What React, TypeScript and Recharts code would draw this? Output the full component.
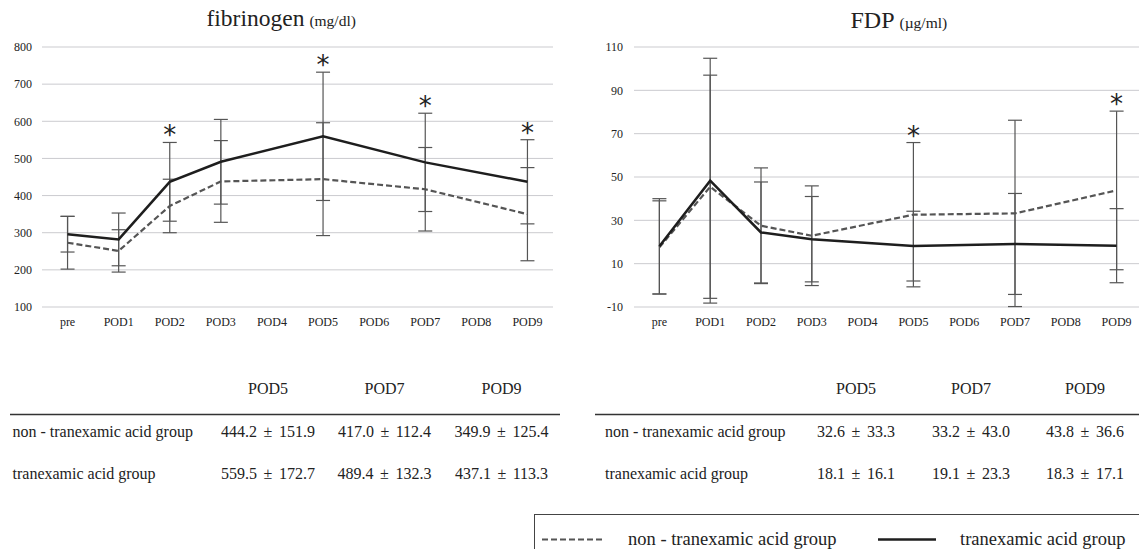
import React from 'react';
import { CartesianGrid, ErrorBar, Line, LineChart, XAxis, YAxis } from 'recharts';

// categories on the x axis (POD4/6/8 have no measurement)
const days = ['pre', 'POD1', 'POD2', 'POD3', 'POD4', 'POD5', 'POD6', 'POD7', 'POD8', 'POD9'];

// fibrinogen (mg/dl), mean and SD per day
const fibNon = [273, 251, 372, 438, null, 444.2, null, 417.0, null, 349.9];
const fibNonSd = [71, 57, 72, 110, null, 151.9, null, 112.4, null, 125.4];
const fibTxa = [296, 282, 437, 491, null, 559.5, null, 489.4, null, 437.1];
const fibTxaSd = [48, 71, 106, 114, null, 172.7, null, 132.3, null, 113.3];
const fibSig = [false, false, true, false, false, true, false, true, false, true];
const fibTicks = [100, 200, 300, 400, 500, 600, 700, 800];

// FDP (µg/ml)
const fdpNon = [17.5, 45.5, 27.5, 22.9, null, 32.6, null, 33.2, null, 43.8];
const fdpNonSd = [21.5, 51.5, 26.7, 23.0, null, 33.3, null, 43.0, null, 36.6];
const fdpTxa = [18, 48.3, 24.4, 21.3, null, 18.1, null, 19.1, null, 18.3];
const fdpTxaSd = [22, 56.5, 23.3, 19.7, null, 16.1, null, 23.3, null, 17.1];
const fdpSig = [false, false, false, false, false, true, false, false, false, true];
const fdpTicks = [-10, 10, 30, 50, 70, 90, 110];

const tableDays = ['POD5', 'POD7', 'POD9'];
const groupNames = ['non - tranexamic acid group', 'tranexamic acid group'];

const SERIF = '"Liberation Serif", "Times New Roman", serif';

type Num = number | null;

function buildRows(non: Num[], nonSd: Num[], txa: Num[], txaSd: Num[], sig: boolean[]) {
  return days.map((d, i) => {
    const a = non[i];
    const b = txa[i];
    let star: Num = null;
    if (sig[i] && a != null && b != null) {
      star = Math.max(a + (nonSd[i] ?? 0), b + (txaSd[i] ?? 0));
    }
    return { day: d, non: a, nonSd: nonSd[i], txa: b, txaSd: txaSd[i], star };
  });
}

const fmt = (m: Num, s: Num) => `${(m ?? 0).toFixed(1)} ± ${(s ?? 0).toFixed(1)}`;

function StarDot(props: any) {
  const { cx, cy, index } = props;
  if (cx == null || cy == null || isNaN(cy)) return <g key={`st${index}`} />;
  return (
    <text
      key={`st${index}`}
      x={cx}
      y={cy + 2}
      textAnchor="middle"
      fontSize={26}
      fontFamily='"DejaVu Sans", sans-serif'
      fill="#222"
    >
      *
    </text>
  );
}

interface PanelProps {
  rows: ReturnType<typeof buildRows>;
  domain: [number, number];
  ticks: number[];
  yWidth: number;
  yMargin: number;
  width: number;
}

function Panel({ rows, domain, ticks, yWidth, yMargin, width }: PanelProps) {
  return (
    <LineChart
      width={width}
      height={340}
      data={rows}
      margin={{ top: 47, right: 8, bottom: 3, left: 0 }}
    >
      <CartesianGrid vertical={false} stroke="#cbcbcf" strokeWidth={1} />
      <XAxis
        dataKey="day"
        scale="band"
        axisLine={false}
        tickLine={false}
        tickSize={0}
        tickMargin={10}
        height={30}
        interval={0}
        tick={{ fontSize: 12, fill: '#222', fontFamily: SERIF }}
      />
      <YAxis
        domain={domain}
        ticks={ticks}
        width={yWidth}
        axisLine={false}
        tickLine={false}
        tickSize={0}
        tickMargin={yMargin}
        tick={{ fontSize: 12, fill: '#222', fontFamily: SERIF }}
      />
      <Line
        dataKey="non"
        stroke="#555"
        strokeWidth={2.2}
        strokeDasharray="6 3"
        dot={false}
        connectNulls
        isAnimationActive={false}
      >
        <ErrorBar dataKey="nonSd" width={7} stroke="#555" strokeWidth={1.2} direction="y" />
      </Line>
      <Line
        dataKey="txa"
        stroke="#1e1e1e"
        strokeWidth={2.5}
        dot={false}
        connectNulls
        isAnimationActive={false}
      >
        <ErrorBar dataKey="txaSd" width={7} stroke="#555" strokeWidth={1.2} direction="y" />
      </Line>
      <Line
        dataKey="star"
        stroke="none"
        dot={StarDot}
        activeDot={false}
        legendType="none"
        isAnimationActive={false}
      />
    </LineChart>
  );
}

export default function App() {
  const fibRows = buildRows(fibNon, fibNonSd, fibTxa, fibTxaSd, fibSig);
  const fdpRows = buildRows(fdpNon, fdpNonSd, fdpTxa, fdpTxaSd, fdpSig);

  const idx = tableDays.map((d) => days.indexOf(d));
  const fibTable = [
    idx.map((i) => fmt(fibNon[i], fibNonSd[i])),
    idx.map((i) => fmt(fibTxa[i], fibTxaSd[i])),
  ];
  const fdpTable = [
    idx.map((i) => fmt(fdpNon[i], fdpNonSd[i])),
    idx.map((i) => fmt(fdpTxa[i], fdpTxaSd[i])),
  ];

  const leftCols = [268, 384.5, 501.5];
  const rightCols = [856, 971, 1085];
  const rowY = [437, 479];

  return (
    <div
      style={{
        position: 'absolute',
        left: 0,
        top: 0,
        width: 1139,
        height: 549,
        overflow: 'hidden',
        background: '#fff',
      }}
    >
      <div style={{ position: 'absolute', left: 0, top: 0 }}>
        <Panel rows={fibRows} domain={[100, 800]} ticks={fibTicks} yWidth={42} yMargin={10} width={561} />
      </div>
      <div style={{ position: 'absolute', left: 580, top: 0 }}>
        <Panel rows={fdpRows} domain={[-10, 110]} ticks={fdpTicks} yWidth={54} yMargin={11} width={570} />
      </div>

      <svg
        width={1139}
        height={549}
        style={{ position: 'absolute', left: 0, top: 0, pointerEvents: 'none' }}
        fontFamily={SERIF}
      >
        {/* titles */}
        <text x={206.5} y={26} fill="#222">
          <tspan fontSize={23.5}>fibrinogen</tspan>
          <tspan fontSize={15.5} dx={5}>(mg/dl)</tspan>
        </text>
        <text x={850.5} y={27.5} fill="#222">
          <tspan fontSize={24}>FDP</tspan>
          <tspan fontSize={15.5} dx={5}>(µg/ml)</tspan>
        </text>

        {/* left table */}
        {tableDays.map((d, j) => (
          <text key={`lh${d}`} x={leftCols[j]} y={394} textAnchor="middle" fontSize={16} fill="#222">
            {d}
          </text>
        ))}
        <line x1={10} x2={560} y1={414.5} y2={414.5} stroke="#333" strokeWidth={1.6} />
        {groupNames.map((g, r) => (
          <g key={`lr${r}`}>
            <text x={12.5} y={rowY[r]} fontSize={16} fill="#222">
              {g}
            </text>
            {fibTable[r].map((v, j) => (
              <text key={`lv${r}${j}`} x={leftCols[j]} y={rowY[r]} textAnchor="middle" fontSize={16} wordSpacing={2.5} fill="#222">
                {v}
              </text>
            ))}
          </g>
        ))}

        {/* right table */}
        {tableDays.map((d, j) => (
          <text key={`rh${d}`} x={rightCols[j]} y={394} textAnchor="middle" fontSize={16} fill="#222">
            {d}
          </text>
        ))}
        <line x1={595} x2={1139} y1={414.5} y2={414.5} stroke="#333" strokeWidth={1.6} />
        {groupNames.map((g, r) => (
          <g key={`rr${r}`}>
            <text x={605} y={rowY[r]} fontSize={16} fill="#222">
              {g}
            </text>
            {fdpTable[r].map((v, j) => (
              <text key={`rv${r}${j}`} x={rightCols[j]} y={rowY[r]} textAnchor="middle" fontSize={16} wordSpacing={2.5} fill="#222">
                {v}
              </text>
            ))}
          </g>
        ))}

        {/* legend */}
        <rect x={534.5} y={514.5} width={640} height={80} fill="none" stroke="#444" strokeWidth={1} />
        <line x1={542} x2={604} y1={539.5} y2={539.5} stroke="#555" strokeWidth={2} strokeDasharray="6 3" />
        <text x={628} y={544.5} fontSize={18.5} fill="#222">
          {groupNames[0]}
        </text>
        <line x1={878} x2={936} y1={539.5} y2={539.5} stroke="#1e1e1e" strokeWidth={2.5} />
        <text x={960} y={544.5} fontSize={18.5} fill="#222">
          {groupNames[1]}
        </text>
      </svg>
    </div>
  );
}
